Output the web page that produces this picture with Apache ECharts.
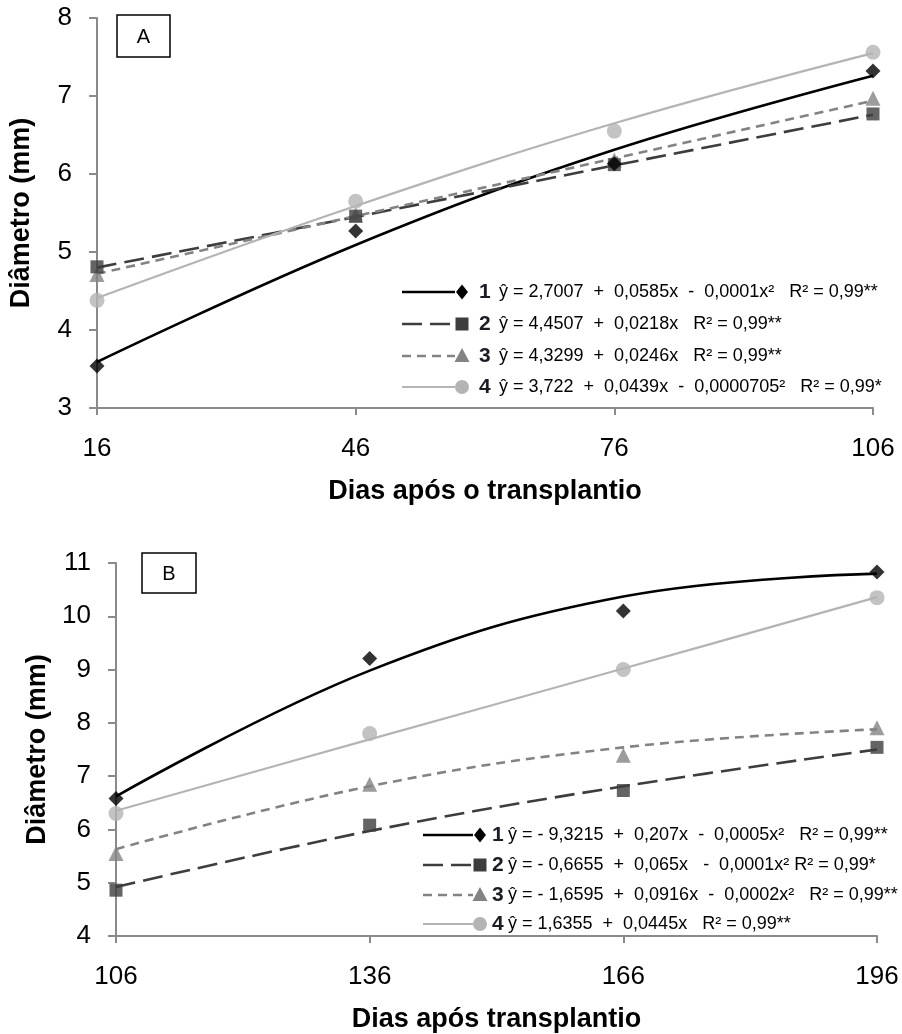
<!DOCTYPE html>
<html>
<head>
<meta charset="utf-8">
<script src="https://cdn.jsdelivr.net/npm/echarts@6/dist/echarts.min.js"></script>
<style>
  html, body { margin: 0; padding: 0; background: #fff; }
  #chart { width: 902px; height: 1034px; }
</style>
</head>
<body>
<div id="chart"></div>
<script>
// Days after transplanting (x categories) for each panel
const daysA = ['16', '46', '76', '106'];
const daysB = ['106', '136', '166', '196'];

// Panel A: observed stem diameter (mm) per treatment
const obsA1 = [3.54, 5.27, 6.13, 7.32];
const obsA2 = [4.81, 5.46, 6.12, 6.77];
const obsA3 = [4.71, 5.47, 6.18, 6.97];
const obsA4 = [4.38, 5.65, 6.55, 7.56];
// Panel A: fitted regression curves at the same days
const fitA1 = [3.59, 5.09, 6.31, 7.26];
const fitA2 = [4.80, 5.45, 6.11, 6.76];
const fitA3 = [4.72, 5.46, 6.20, 6.94];
const fitA4 = [4.41, 5.59, 6.65, 7.55];

// Panel B: observed stem diameter (mm) per treatment
const obsB1 = [6.58, 9.21, 10.10, 10.83];
const obsB2 = [4.86, 6.08, 6.73, 7.54];
const obsB3 = [5.55, 6.85, 7.39, 7.91];
const obsB4 = [6.30, 7.80, 9.00, 10.35];
// Panel B: fitted regression curves
const fitB1 = [6.62, 8.98, 10.37, 10.80];
const fitB2 = [4.92, 5.97, 6.81, 7.50];
const fitB3 = [5.63, 6.81, 7.54, 7.88];
const fitB4 = [6.35, 7.69, 9.02, 10.36];

// Regression equations shown in each legend
const eqA = [
  'ŷ = 2,7007  +  0,0585x  -  0,0001x²   R² = 0,99**',
  'ŷ = 4,4507  +  0,0218x   R² = 0,99**',
  'ŷ = 4,3299  +  0,0246x   R² = 0,99**',
  'ŷ = 3,722  +  0,0439x  -  0,0000705²   R² = 0,99*'
];
const eqB = [
  'ŷ = - 9,3215  +  0,207x  -  0,0005x²   R² = 0,99**',
  'ŷ = - 0,6655  +  0,065x   -  0,0001x² R² = 0,99*',
  'ŷ = - 1,6595  +  0,0916x  -  0,0002x²   R² = 0,99**',
  'ŷ = 1,6355  +  0,0445x   R² = 0,99**'
];
const treatments = ['1', '2', '3', '4'];

const FONT = 'Liberation Sans, Arial, sans-serif';
const AXIS = '#8a8a8a';

// Visual style of each treatment
const styles = [
  { color: '#000000', line: '#000000', dash: 'solid', width: 2.6, symbol: 'diamond', size: 15 },
  { color: '#3d3d3d', line: '#3d3d3d', dash: [20, 8], width: 2.6, symbol: 'rect', size: 13 },
  { color: '#838383', line: '#838383', dash: [9, 6], width: 2.6, symbol: 'triangle', size: 15 },
  { color: '#b4b4b4', line: '#b4b4b4', dash: 'solid', width: 2.2, symbol: 'circle', size: 15 }
];

function yAxisCfg(grid, min, max) {
  return {
    type: 'value', gridIndex: grid, min: min, max: max, interval: 1,
    name: 'Diâmetro (mm)', nameLocation: 'middle', nameGap: 62,
    nameTextStyle: { fontFamily: FONT, fontWeight: 'bold', fontSize: 27, color: '#000' },
    axisLine: { show: true, lineStyle: { color: AXIS, width: 2 } },
    axisTick: { show: true, length: 8, lineStyle: { color: AXIS, width: 2 } },
    axisLabel: { margin: 25, fontFamily: FONT, fontSize: 26, color: '#000' },
    splitLine: { show: false }
  };
}
function xAxisCfg(grid, cats, title) {
  return {
    type: 'category', gridIndex: grid, data: cats, boundaryGap: false,
    name: title, nameLocation: 'middle', nameGap: 70,
    nameTextStyle: { fontFamily: FONT, fontWeight: 'bold', fontSize: 27, color: '#000' },
    axisLine: { show: true, lineStyle: { color: AXIS, width: 2 } },
    axisTick: { show: true, length: 7, inside: false, lineStyle: { color: AXIS, width: 2 } },
    axisLabel: { margin: 28, fontFamily: FONT, fontSize: 26, color: '#000', showMinLabel: true, showMaxLabel: true },
    splitLine: { show: false }
  };
}

function fitSeries(idx, data, s) {
  return {
    type: 'line', xAxisIndex: idx, yAxisIndex: idx, data: data,
    smooth: 0.4, showSymbol: false, symbol: 'none', silent: true,
    lineStyle: { color: s.line, width: s.width, type: s.dash }, z: 2
  };
}
function obsSeries(idx, data, s, z) {
  return {
    type: 'scatter', xAxisIndex: idx, yAxisIndex: idx, data: data,
    symbol: s.symbol, symbolSize: s.size, itemStyle: { color: s.color }, z: z
  };
}

const fitsA = [fitA1, fitA2, fitA3, fitA4];
const obsA = [obsA1, obsA2, obsA3, obsA4];
const fitsB = [fitB1, fitB2, fitB3, fitB4];
const obsB = [obsB1, obsB2, obsB3, obsB4];
const markerZ = [6, 5, 4, 3];

const series = [];
[0, 1, 2, 3].forEach(i => series.push(fitSeries(0, fitsA[i], styles[i])));
[0, 1, 2, 3].forEach(i => series.push(obsSeries(0, obsA[i], styles[i], markerZ[i])));
[0, 1, 2, 3].forEach(i => series.push(fitSeries(1, fitsB[i], styles[i])));
[0, 1, 2, 3].forEach(i => series.push(obsSeries(1, obsB[i], styles[i], markerZ[i])));

// Marker glyph for a legend row
function legendMarker(s, cx, cy) {
  if (s.symbol === 'diamond') {
    return { type: 'polygon', shape: { points: [[cx, cy - 7.5], [cx + 6, cy], [cx, cy + 7.5], [cx - 6, cy]] }, style: { fill: s.color } };
  }
  if (s.symbol === 'rect') {
    return { type: 'rect', shape: { x: cx - 6.5, y: cy - 6.5, width: 13, height: 13 }, style: { fill: s.color } };
  }
  if (s.symbol === 'triangle') {
    return { type: 'polygon', shape: { points: [[cx, cy - 8], [cx + 7.5, cy + 6], [cx - 7.5, cy + 6]] }, style: { fill: s.color } };
  }
  return { type: 'circle', shape: { cx: cx, cy: cy, r: 7 }, style: { fill: s.color } };
}

// Legend block: line sample + marker + treatment number + equation
function legendBlock(x0, x1, mx, nx, ex, rows, eqs) {
  const els = [];
  rows.forEach((y, i) => {
    const s = styles[i];
    els.push({
      type: 'line', shape: { x1: x0, y1: y, x2: x1, y2: y },
      style: { stroke: s.line, lineWidth: s.width, lineDash: s.dash === 'solid' ? null : s.dash }
    });
    els.push(legendMarker(s, mx, y));
    els.push({
      type: 'text', x: nx, y: y,
      style: { text: treatments[i], font: 'bold 21px ' + FONT, fill: '#1c1c24', verticalAlign: 'middle', align: 'left' }
    });
    els.push({
      type: 'text', x: ex, y: y,
      style: { text: eqs[i], font: '18px ' + FONT, fill: '#000', verticalAlign: 'middle', align: 'left' }
    });
  });
  return els;
}

function panelTag(x, y, w, h, label) {
  return [
    { type: 'rect', shape: { x: x, y: y, width: w, height: h }, style: { fill: '#fff', stroke: '#000', lineWidth: 1.5 }, z: 10 },
    { type: 'text', x: x + w / 2, y: y + h / 2 + 1, z: 11,
      style: { text: label, font: '20px ' + FONT, fill: '#000', align: 'center', verticalAlign: 'middle' } }
  ];
}

const graphics = []
  .concat(panelTag(117, 15, 53, 42, 'A'))
  .concat(panelTag(142, 553, 54, 40, 'B'))
  .concat(legendBlock(402, 455, 462, 479, 499, [292, 324, 356, 387], eqA))
  .concat(legendBlock(423, 473, 480, 492, 508, [835, 865, 895, 924], eqB));

const chart = echarts.init(document.getElementById('chart'), null, { renderer: 'canvas' });
chart.setOption({
  backgroundColor: '#ffffff',
  animation: false,
  grid: [
    { left: 89, top: 18, width: 784, height: 390 },
    { left: 116, top: 563, width: 761, height: 374 }
  ],
  xAxis: [
    xAxisCfg(0, daysA, 'Dias após o transplantio'),
    xAxisCfg(1, daysB, 'Dias após transplantio')
  ],
  yAxis: [yAxisCfg(0, 3, 8), yAxisCfg(1, 4, 11)],
  series: series,
  graphic: { elements: graphics }
});
</script>
</body>
</html>
